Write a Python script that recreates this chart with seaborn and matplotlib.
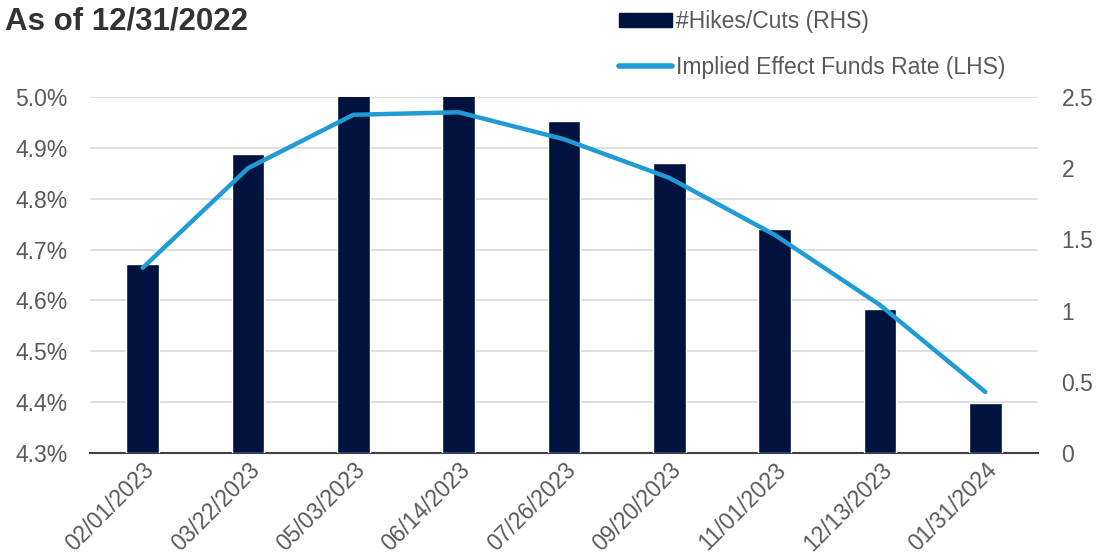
import numpy as np
import pandas as pd
import matplotlib
matplotlib.use("Agg")
import matplotlib.pyplot as plt
import seaborn as sns
from matplotlib.patches import Patch
from matplotlib.lines import Line2D
from matplotlib.ticker import FuncFormatter, MultipleLocator

dates = ["02/01/2023", "03/22/2023", "05/03/2023", "06/14/2023", "07/26/2023",
         "09/20/2023", "11/01/2023", "12/13/2023", "01/31/2024"]
hikes_cuts = [1.33, 2.10, 2.52, 2.52, 2.33, 2.04, 1.57, 1.01, 0.35]
implied_rate = [4.664, 4.860, 4.965, 4.970, 4.917, 4.841, 4.729, 4.591, 4.420]

bar_label = "#Hikes/Cuts (RHS)"
line_label = "Implied Effect Funds Rate (LHS)"
title = "As of 12/31/2022"

df = pd.DataFrame({"date": dates, "hikes": hikes_cuts, "rate": implied_rate})

sns.set_theme(style="white")
plt.rcParams["font.family"] = ["Liberation Sans", "DejaVu Sans"]

BAR = "#00133f"
LINE = "#1f9bd6"
TXT = "#595959"
FS = 16.5

fig = plt.figure(figsize=(10.97, 5.60), dpi=100)
ax = fig.add_axes([90/1097, 1-453/560, (1038-90)/1097, (453-97)/560])

# base axes: left scale + grid
ax.set_ylim(4.3, 5.0)
ax.yaxis.set_major_locator(MultipleLocator(0.1))
ax.yaxis.set_major_formatter(FuncFormatter(lambda v, p: f"{v:.1f}%"))
ax.grid(axis="y", color="#d9d9d9", linewidth=1.2)
ax.set_axisbelow(True)

# bars on right scale
ax2 = ax.twinx()
sns.barplot(data=df, x="date", y="hikes", ax=ax2, color=BAR, width=0.31,
            saturation=1, zorder=2)
ax2.set_ylim(0, 2.5)
ax2.yaxis.set_major_locator(MultipleLocator(0.5))
ax2.yaxis.set_major_formatter(FuncFormatter(lambda v, p: f"{v:g}"))

# line on left scale, drawn on top
ax3 = ax.twinx()
sns.lineplot(data=df, x="date", y="rate", ax=ax3, color=LINE, linewidth=3.2,
             sort=False)
ax3.set_ylim(4.3, 5.0)
ax3.set_yticks([])
ax3.set_ylabel("")

ax.set_xlim(-0.5, len(dates) - 0.5)
for a in (ax, ax2, ax3):
    a.set_xlabel("")
    for s in a.spines.values():
        s.set_visible(False)
ax.spines["bottom"].set_visible(True)
ax.spines["bottom"].set_color("#404040")
ax.spines["bottom"].set_linewidth(1.5)
ax2.set_ylabel("")
ax.set_ylabel("")

ax.tick_params(axis="y", labelsize=FS, labelcolor=TXT, length=0, pad=16)
ax2.tick_params(axis="y", labelsize=FS, labelcolor=TXT, length=0, pad=17)
ax.tick_params(axis="x", length=0, pad=4)
ax.set_xticks(range(len(dates)))
ax.set_xticklabels(dates, rotation=45, ha="right", rotation_mode="anchor",
                   fontsize=FS, color=TXT)
ax2.tick_params(axis="x", labelbottom=False, length=0)
ax3.tick_params(axis="x", labelbottom=False, length=0)

fig.text(5/1097, 1-22/560, title, fontsize=22.5, fontweight="bold",
         color="#333333", va="center", ha="left")

handles = [Patch(facecolor=BAR, edgecolor=BAR, label=bar_label),
           Line2D([0], [0], color=LINE, linewidth=4, solid_capstyle="round",
                  label=line_label)]
fig.legend(handles=handles, loc="upper left", bbox_to_anchor=(619/1097, 1-10/560),
           frameon=False, fontsize=FS, labelcolor=TXT, handlelength=2.3,
           handletextpad=0.2, labelspacing=1.0, handleheight=0.6,
           borderpad=0, borderaxespad=0)

fig.savefig("out.png", dpi=100)
